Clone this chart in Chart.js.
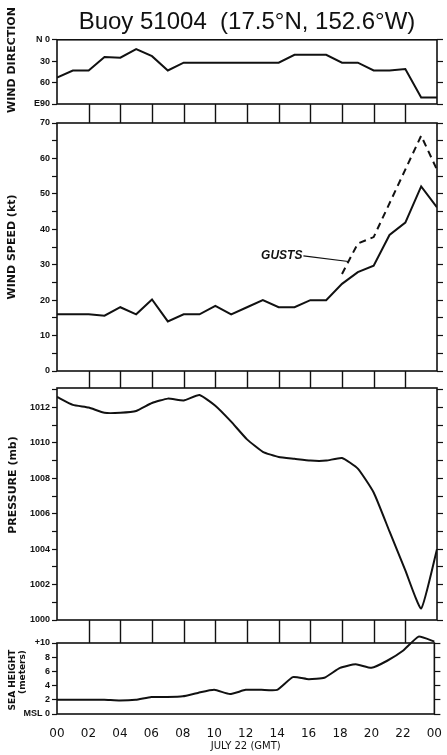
<!DOCTYPE html>
<html>
<head>
<meta charset="utf-8">
<script src="https://cdn.jsdelivr.net/npm/chart.js@4.4.0/dist/chart.umd.min.js"></script>
<style>
  body { margin: 0; background: #fff; }
  #wrap { position: relative; width: 447px; height: 755px; }
  canvas { position: absolute; left: 0; }
</style>
</head>
<body>
<div id="wrap">
  <canvas id="dir" width="447" height="123" style="top:0px"></canvas>
  <canvas id="speed" width="447" height="275" style="top:113px"></canvas>
  <canvas id="pres" width="447" height="265" style="top:378px"></canvas>
  <canvas id="sea" width="447" height="122" style="top:633px"></canvas>
</div>
<script>
// hours of July 22 (GMT), 0 .. 24
const hours = [0,1,2,3,4,5,6,7,8,9,10,11,12,13,14,15,16,17,18,19,20,21,22,23,24];
const xTicks = [0,2,4,6,8,10,12,14,16,18,20,22,24];

// wind direction (deg, 0 = N, 90 = E)
const windDir = [53,43,43,24,25,13,23,43,32,32,32,32,32,32,32,21,21,21,32,32,43,43,41,81,81];
// wind speed and gusts (kt)
const windSpeed = [16,16,16,15.6,18,16,20.2,14,16,16,18.4,16,18,20,18,18,20,20,24.6,27.9,29.7,38.4,41.9,52.1,46.2];
const gusts = [null,null,null,null,null,null,null,null,null,null,null,null,null,null,null,null,null,null,
  27.4,36,37.8,null,null,66.4,56.8];
// pressure (mb)
const pressure = [1012.6,1012.15,1012.0,1011.7,1011.7,1011.8,1012.25,1012.5,1012.4,1012.7,1012.1,1011.2,
  1010.2,1009.5,1009.2,1009.1,1009.0,1009.0,1009.15,1008.55,1007.2,1005.0,1002.8,1000.65,1004.0];
// sea height (m above MSL)
const seaHeight = [2,2,2,2,1.9,2,2.4,2.4,2.5,3,3.4,2.8,3.4,3.4,3.4,5.2,4.9,5.1,6.5,7,6.5,7.5,8.9,10.9,10.2];

const dirLabels = {0: 'N 0', 30: '30', 60: '60', 90: 'E90'};
const seaLabels = {0: 'MSL 0', 2: '2', 4: '4', 6: '6', 8: '8', 10: '+10'};

const ink = '#111';
const tickFont = { family: 'Liberation Sans', size: 9, weight: 'bold' };

const pts = arr => hours.map((h, i) => ({ x: h, y: arr[i] }));

// box round each panel + the strip of boxes below it
const framePlugin = {
  id: 'frame',
  afterDraw(chart, args, opts) {
    const { ctx, chartArea: a } = chart;
    const x = chart.scales.x;
    ctx.save();
    ctx.strokeStyle = ink;
    ctx.lineWidth = 1.6;
    ctx.strokeRect(a.left, a.top, a.right - a.left, a.bottom - a.top);
    if (opts.strip) {
      ctx.beginPath();
      xTicks.slice(1, -1).forEach(h => {
        const px = Math.round(x.getPixelForValue(h)) + 0.5;
        ctx.moveTo(px, a.bottom);
        ctx.lineTo(px, a.bottom + opts.strip);
      });
      ctx.lineWidth = 1.4;
      ctx.stroke();
    }
    // rotated side titles
    (opts.titles || []).forEach(t => {
      ctx.save();
      ctx.translate(t.x, t.y);
      ctx.rotate(-Math.PI / 2);
      ctx.fillStyle = ink;
      ctx.font = t.font;
      ctx.textAlign = 'center';
      ctx.textBaseline = 'middle';
      ctx.fillText(t.text, 0, 0);
      ctx.restore();
    });
    // GUSTS label with its leader line
    if (opts.note) {
      const y = chart.scales.y;
      const n = opts.note;
      const tx = x.getPixelForValue(n.hour), ty = y.getPixelForValue(n.value);
      ctx.fillStyle = ink;
      ctx.font = 'italic bold 12px "Liberation Sans"';
      ctx.textAlign = 'right';
      ctx.textBaseline = 'middle';
      ctx.fillText(n.text, tx, ty);
      ctx.beginPath();
      ctx.moveTo(tx + 1, ty);
      ctx.lineTo(x.getPixelForValue(n.toHour), y.getPixelForValue(n.toValue));
      ctx.lineWidth = 1.2;
      ctx.stroke();
    }
    ctx.restore();
  }
};

function leftAxis(min, max, step, labelFn, extra) {
  return Object.assign({
    position: 'left', min, max,
    afterFit: s => { s.width = 57; },
    border: { display: false },
    grid: { drawOnChartArea: false, tickLength: 5, tickColor: ink, tickWidth: 1.2 },
    ticks: { stepSize: step, padding: 2, color: ink, font: tickFont, autoSkip: false, includeBounds: false,
             callback: labelFn }
  }, extra || {});
}

function rightAxis(min, max, step, extra) {
  return Object.assign({
    position: 'right', min, max,
    afterFit: s => { s.width = 10; },
    border: { display: false },
    grid: { drawOnChartArea: false, tickLength: 6, tickColor: ink, tickWidth: 1.2 },
    ticks: { stepSize: step, display: false, autoSkip: false, includeBounds: false }
  }, extra || {});
}

const hiddenX = { type: 'linear', min: 0, max: 24, display: false };

function line(data, extra) {
  return Object.assign({
    data: pts(data), borderColor: ink, borderWidth: 2, pointRadius: 0, tension: 0, fill: false
  }, extra || {});
}

const base = (padTop, padBottom, plugins) => ({
  responsive: false,
  animation: false,
  layout: { padding: { top: padTop, bottom: padBottom, left: 0, right: 0 } },
  plugins: Object.assign({ legend: { display: false }, tooltip: { enabled: false } }, plugins)
});

const titleFont = 'bold 11px "DejaVu Sans"';

// wind direction
new Chart(document.getElementById('dir'), {
  type: 'line',
  data: { datasets: [line(windDir)] },
  options: Object.assign(base(0, 19, {
    title: {
      display: true, text: 'Buoy 51004  (17.5°N, 152.6°W)', fullSize: false, color: ink,
      font: { family: 'Liberation Sans', size: 24, weight: 'normal' },
      padding: { top: 8, bottom: 3 }
    },
    frame: { strip: 19, titles: [{ text: 'WIND DIRECTION', x: 12, y: 60, font: titleFont }] }
  }), {
    scales: {
      x: hiddenX,
      y: leftAxis(0, 90, 30, v => dirLabels[v] || '', { reverse: true }),
      yr: rightAxis(0, 90, 30, { reverse: true })
    }
  }),
  plugins: [framePlugin]
});

// wind speed
new Chart(document.getElementById('speed'), {
  type: 'line',
  data: { datasets: [line(windSpeed), line(gusts, { borderDash: [7, 5], spanGaps: true })] },
  options: Object.assign(base(10, 17, {
    frame: {
      strip: 17,
      titles: [{ text: 'WIND SPEED (kt)', x: 12, y: 134, font: titleFont }],
      note: { text: 'GUSTS', hour: 15.5, value: 32.5, toHour: 18.4, toValue: 30.9 }
    }
  }), {
    scales: {
      x: hiddenX,
      y: leftAxis(0, 70, 5, v => (v % 10 === 0 ? String(v) : '')),
      yr: rightAxis(0, 70, 5)
    }
  }),
  plugins: [framePlugin]
});

// pressure
new Chart(document.getElementById('pres'), {
  type: 'line',
  data: { datasets: [line(pressure, { tension: 0.15 })] },
  options: Object.assign(base(10, 23, {
    frame: { strip: 23, titles: [{ text: 'PRESSURE (mb)', x: 13, y: 107, font: titleFont }] }
  }), {
    scales: {
      x: hiddenX,
      y: leftAxis(1000, 1013.1, 1, v => (v % 2 === 0 ? String(v) : '')),
      yr: rightAxis(1000, 1013.1, 1)
    }
  }),
  plugins: [framePlugin]
});

// sea height
new Chart(document.getElementById('sea'), {
  type: 'line',
  data: { datasets: [line(seaHeight, { tension: 0.15, clip: false })] },
  options: Object.assign(base(10, 0, {
    frame: {
      titles: [
        { text: 'SEA HEIGHT', x: 13, y: 47, font: 'bold 9px "DejaVu Sans"' },
        { text: '(meters)', x: 23, y: 39, font: 'bold 9px "DejaVu Sans"' }
      ]
    }
  }), {
    scales: {
      x: {
        type: 'linear', min: 0, max: 24,
        afterFit: s => { s.height = 41; },
        afterBuildTicks: s => { s.ticks = xTicks.map(v => ({ value: v })); },
        border: { display: false },
        grid: { display: false },
        ticks: { padding: 5, color: ink, maxRotation: 0, autoSkip: false,
                 font: { family: 'DejaVu Sans', size: 12 },
                 callback: v => String(v % 24).padStart(2, '0') },
        title: { display: true, text: 'JULY 22 (GMT)', color: ink,
                 font: { family: 'DejaVu Sans', size: 10 }, padding: { top: 0, bottom: 3 } }
      },
      y: leftAxis(0, 10, 2, v => seaLabels[v] || ''),
      yr: rightAxis(0, 10, 2)
    }
  }),
  plugins: [framePlugin]
});
</script>
</body>
</html>
